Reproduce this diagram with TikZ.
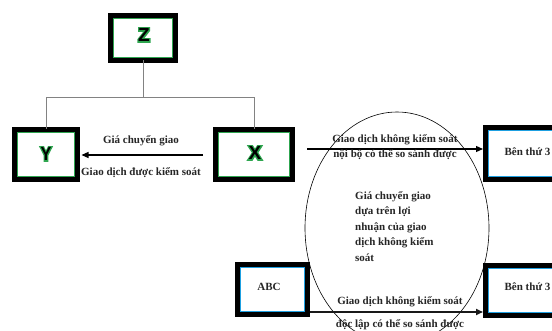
\documentclass[tikz,border=0pt]{standalone}
\usepackage{fontspec}
\setmainfont{Liberation Serif}
\newfontfamily\artfont{Liberation Sans}
\usetikzlibrary{arrows.meta,calc}
\definecolor{innerg}{RGB}{46,165,80}
\definecolor{innerb}{RGB}{30,160,225}
\definecolor{treegray}{RGB}{130,130,130}
\tikzset{
  boxbase/.style={draw=black, line width=5pt, outer sep=0pt, fill=white, inner sep=0pt},
  lbl/.style={font=\bfseries\fontsize{11}{13}\selectfont, inner sep=0pt, text=black!85},
  artk/.style={font=\artfont\bfseries\fontsize{19}{19}\selectfont, text=black, inner sep=0pt},
  tree/.style={draw=treegray, line width=1pt},
  arr/.style={draw=black, line width=1.2pt, -{Triangle[length=7pt,width=6pt]}},
}
\newcommand\outl[1]{\rlap{\special{pdf:literal direct 1 Tr 2.6 w 0.18 0.65 0.31 RG}#1\special{pdf:literal direct 0 Tr}}#1}
\newcommand\innerframe[2]{%
  \draw[draw=#2, line width=1.4pt] ([shift={(3.2pt,-3.2pt)}]#1.north west) rectangle ([shift={(-3.2pt,3.2pt)}]#1.south east);}
\begin{document}
\begin{tikzpicture}[x=1pt,y=-1pt]
\useasboundingbox (0,0) rectangle (552,331);
\fill[white] (0,0) rectangle (552,331);
\clip (0,0) rectangle (552,331);

% ellipse
\draw[line width=0.6pt] (397,228) ellipse [x radius=92, y radius=116];

% boxes
\node[boxbase, minimum width=65pt, minimum height=45pt] (Z) at (143,38) {};
\node[boxbase, minimum width=63pt, minimum height=50pt] (Y) at (46,154.5) {};
\node[boxbase, minimum width=77pt, minimum height=50pt] (X) at (254,154.5) {};
\node[boxbase, minimum width=70pt, minimum height=50pt] (nABC) at (272.5,289.5) {};
\node[boxbase, minimum width=83pt, minimum height=52pt] (B1) at (527,153.5) {};
\node[boxbase, minimum width=83pt, minimum height=50pt] (B2) at (527,290.5) {};
\innerframe{Z}{innerg}
\innerframe{Y}{innerg}
\innerframe{X}{innerg}
\innerframe{nABC}{innerb}
\innerframe{B1}{innerb}
\innerframe{B2}{innerb}

% tree
\coordinate (J) at (143,98);
\draw[tree] (Z.south) -- (J);
\draw[tree] (J) -| (Y.north);
\draw[tree] (J) -| (X.north);

% arrows
\coordinate (a1s) at ($(X.west)+(-12.5,0.5)$);
\coordinate (a1e) at ($(Y.east)+(4,0.5)$);
\draw[arr] (a1s) -- (a1e);
\coordinate (a2s) at ($(X.east)+(14.5,-5.5)$);
\coordinate (a2e) at ($(B1.west)+(-2.5,-4.5)$);
\draw[arr] (a2s) -- (a2e);
\coordinate (a3s) at (310,312);
\coordinate (a3e) at (483,312);
\draw[arr, line width=1.6pt, draw=black!90] (a3s) -- (a3e);

% letters
\node[artk] (Zt) at (144,35) {\outl{Z}};
\node[artk, xscale=0.85] (Yt) at (46,154) {\outl{Y}};
\node[artk] (Xt) at (255,153) {\outl{X}};
\node[lbl] (ABCt) at (269,287) {ABC};
\node[lbl] (B1t) at (527.5,152) {Bên thứ 3};
\node[lbl] (B2t) at (527.5,287) {Bên thứ 3};

% labels
\node[lbl] (l1) at (141,141) {Giá chuyển giao};
\node[lbl] (l2) at (141,173) {Giao dịch được kiểm soát};
\node[lbl] (l3) at (395,140) {Giao dịch không kiểm soát};
\node[lbl] (l4) at (395,155) {nội bộ có thể so sánh được};
\node[lbl] (l5) at (400,302) {Giao dịch không kiểm soát};
\node[lbl] (l6) at (400,325) {độc lập có thể so sánh được};
\node[lbl, align=left, anchor=west, font=\bfseries\fontsize{11}{15.5}\selectfont] (l7) at (355,226.5)
  {Giá chuyển giao\\dựa trên lợi\\nhuận của giao\\dịch không kiểm\\soát};
\end{tikzpicture}
\end{document}
